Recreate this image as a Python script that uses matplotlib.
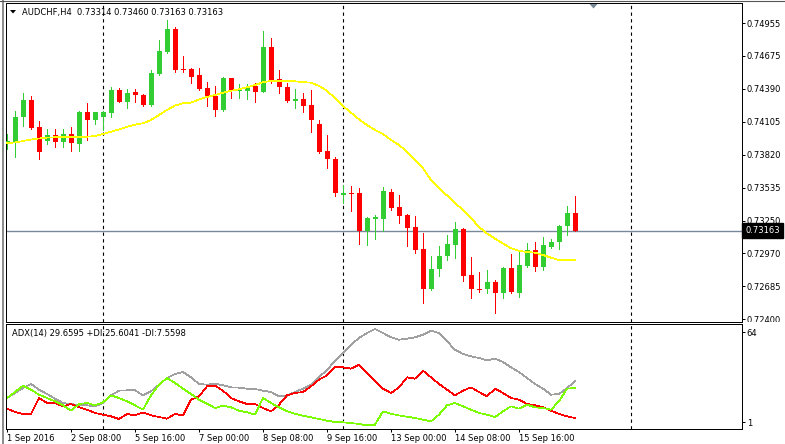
import matplotlib
matplotlib.use("Agg")
import matplotlib.pyplot as plt
from matplotlib.patches import Polygon, Rectangle
from matplotlib.lines import Line2D
import numpy as np

# AUDCHF H4 candles, 1 Sep 2016 00:00 .. 16 Sep 2016 20:00
opens = [0.73926, 0.73933, 0.74142, 0.74293, 0.74060, 0.73942, 0.73991, 0.73933, 0.73997, 0.73913,
         0.74189, 0.74123, 0.74146, 0.74183, 0.74379, 0.74278, 0.74365, 0.74336, 0.74250, 0.74520,
         0.74710, 0.74906, 0.74561, 0.74561, 0.74509, 0.74397, 0.74327, 0.74207, 0.74486, 0.74373,
         0.74371, 0.74414, 0.74365, 0.74753, 0.74474, 0.74402, 0.74287, 0.74302, 0.74250, 0.74086,
         0.73853, 0.73781, 0.73469, 0.73490, 0.73490, 0.73159, 0.73268, 0.73268, 0.73499, 0.73369,
         0.73300, 0.73197, 0.73007, 0.72661, 0.72831, 0.72946, 0.73044, 0.73177, 0.72782, 0.72664,
         0.72659, 0.72722, 0.72624, 0.72843, 0.72624, 0.72863, 0.72998, 0.72854, 0.73027, 0.73063,
         0.73208, 0.73314]
highs = [0.73999, 0.74201, 0.74351, 0.74327, 0.74112, 0.74040, 0.74040, 0.74040, 0.74062, 0.74198,
         0.74264, 0.74189, 0.74198, 0.74408, 0.74394, 0.74385, 0.74385, 0.74342, 0.74552, 0.74811,
         0.74984, 0.74920, 0.74673, 0.74572, 0.74572, 0.74451, 0.74414, 0.74495, 0.74486, 0.74427,
         0.74435, 0.74442, 0.74888, 0.74831, 0.74552, 0.74437, 0.74388, 0.74351, 0.74379, 0.74120,
         0.73991, 0.73804, 0.73559, 0.73551, 0.73533, 0.73285, 0.73300, 0.73545, 0.73527, 0.73473,
         0.73309, 0.73291, 0.73147, 0.72946, 0.73033, 0.73128, 0.73240, 0.73184, 0.72935, 0.72808,
         0.72826, 0.72739, 0.72849, 0.72964, 0.72990, 0.73061, 0.73067, 0.73113, 0.73093, 0.73214,
         0.73381, 0.73460]
lows = [0.73870, 0.73803, 0.74069, 0.74045, 0.73781, 0.73913, 0.73890, 0.73890, 0.73855, 0.73855,
        0.73948, 0.74086, 0.74034, 0.74149, 0.74273, 0.74221, 0.74273, 0.74241, 0.74241, 0.74509,
        0.74696, 0.74537, 0.74537, 0.74440, 0.74375, 0.74237, 0.74155, 0.74198, 0.74313, 0.74310,
        0.74301, 0.74278, 0.74358, 0.74437, 0.74351, 0.74278, 0.74226, 0.74187, 0.74014, 0.73833,
        0.73709, 0.73460, 0.73401, 0.73337, 0.73050, 0.73041, 0.73093, 0.73165, 0.73343, 0.73234,
        0.73035, 0.72970, 0.72543, 0.72653, 0.72774, 0.72912, 0.72932, 0.72733, 0.72581, 0.72638,
        0.72624, 0.72452, 0.72581, 0.72624, 0.72590, 0.72849, 0.72819, 0.72826, 0.73013, 0.73007,
        0.73128, 0.73163]
closes = [0.73939, 0.74146, 0.74293, 0.74051, 0.73847, 0.73991, 0.73933, 0.73997, 0.73919, 0.74189,
          0.74123, 0.74189, 0.74189, 0.74379, 0.74278, 0.74351, 0.74339, 0.74250, 0.74523, 0.74716,
          0.74906, 0.74552, 0.74552, 0.74494, 0.74385, 0.74321, 0.74207, 0.74486, 0.74373, 0.74384,
          0.74405, 0.74365, 0.74753, 0.74466, 0.74402, 0.74287, 0.74299, 0.74244, 0.74118, 0.73847,
          0.73781, 0.73486, 0.73486, 0.73481, 0.73165, 0.73274, 0.73283, 0.73507, 0.73363, 0.73294,
          0.73191, 0.73001, 0.72664, 0.72834, 0.72946, 0.73050, 0.73177, 0.72776, 0.72659, 0.72657,
          0.72722, 0.72624, 0.72843, 0.72633, 0.72866, 0.72998, 0.72854, 0.73041, 0.73070, 0.73208,
          0.73320, 0.73163]
# yellow moving average
ma = [0.73922, 0.73926, 0.73939, 0.73952, 0.73961, 0.73968, 0.73971, 0.73971, 0.73974, 0.73974,
      0.73976, 0.73982, 0.73999, 0.74019, 0.74038, 0.74062, 0.74080, 0.74092, 0.74120, 0.74163,
      0.74207, 0.74245, 0.74264, 0.74270, 0.74297, 0.74319, 0.74336, 0.74356, 0.74373, 0.74385,
      0.74403, 0.74422, 0.74446, 0.74457, 0.74457, 0.74457, 0.74454, 0.74448, 0.74442, 0.74414,
      0.74373, 0.74308, 0.74241, 0.74184, 0.74126, 0.74077, 0.74034, 0.73999, 0.73948, 0.73905,
      0.73847, 0.73775, 0.73703, 0.73602, 0.73529, 0.73469, 0.73404, 0.73343, 0.73274, 0.73197,
      0.73141, 0.73096, 0.73054, 0.73013, 0.72990, 0.72981, 0.72975, 0.72955, 0.72932, 0.72912,
      0.72912, 0.72912]
# ADX(14) panel
adx = [19.6, 22.6, 25.6, 28.0, 24.6, 22.0, 19.2, 16.6, 16.0, 15.2,
       15.2, 14.6, 16.6, 21.2, 24.0, 24.2, 24.2, 21.2, 23.6, 27.6,
       31.6, 34.0, 35.2, 32.0, 28.0, 27.6, 28.2, 27.2, 26.0, 25.8,
       25.2, 25.0, 24.0, 23.2, 20.6, 21.0, 23.2, 25.2, 27.6, 32.0,
       36.6, 41.6, 46.6, 51.6, 55.6, 58.6, 61.0, 58.6, 56.0, 54.6,
       55.2, 56.0, 57.6, 60.0, 58.6, 53.6, 48.6, 46.0, 44.6, 43.6,
       42.2, 43.2, 41.2, 38.0, 35.2, 31.6, 28.0, 25.2, 21.6, 22.0,
       25.6, 29.66]
plus_di = [19.6, 23.2, 27.0, 24.6, 21.6, 19.6, 17.6, 15.2, 12.0, 16.0,
           16.6, 15.2, 17.0, 21.2, 19.6, 17.6, 15.2, 12.6, 21.2, 27.6,
           31.6, 28.6, 25.2, 22.0, 18.6, 16.2, 13.6, 15.0, 14.0, 12.0,
           11.0, 9.6, 19.6, 16.6, 14.0, 11.6, 10.2, 9.0, 8.0, 7.0,
           6.0, 5.2, 5.0, 4.6, 4.0, 3.2, 3.6, 11.6, 10.2, 9.1,
           8.4, 7.6, 6.6, 5.6, 9.6, 15.2, 16.6, 14.6, 12.6, 10.6,
           9.6, 8.2, 11.6, 14.6, 13.2, 15.6, 14.0, 13.6, 12.6, 17.6,
           25.2, 25.60]
minus_di = [13.2, 11.2, 10.0, 10.0, 19.6, 16.6, 16.6, 14.6, 16.0, 14.0,
            12.6, 10.6, 9.6, 8.6, 7.0, 10.0, 9.2, 11.0, 9.2, 8.2,
            7.2, 10.0, 9.2, 18.6, 20.6, 26.6, 27.0, 24.0, 19.6, 17.6,
            16.0, 16.0, 13.6, 11.6, 15.6, 21.2, 22.6, 23.2, 26.6, 30.6,
            33.2, 38.0, 38.0, 37.2, 39.6, 34.6, 29.6, 25.2, 22.6, 26.0,
            32.0, 31.2, 36.0, 32.0, 28.0, 24.6, 21.2, 24.0, 26.0, 23.2,
            20.6, 25.2, 22.6, 19.6, 18.6, 16.0, 15.2, 14.0, 12.0, 10.0,
            8.6, 7.56]

price_ticks = [0.74955, 0.74675, 0.74390, 0.74105, 0.73820, 0.73535, 0.73250, 0.72970, 0.72685, 0.72400]
time_pos = [0, 8, 16, 24, 32, 40, 48, 56, 64]
time_labels = ["1 Sep 2016", "2 Sep 08:00", "5 Sep 16:00", "7 Sep 00:00", "8 Sep 08:00",
               "9 Sep 16:00", "13 Sep 00:00", "14 Sep 08:00", "15 Sep 16:00"]
separators = [12, 42, 78]

W, H = 785, 444
px = 0.72  # one pixel in points
lw_line = 0.5
fs = 6
plt.rcParams["font.family"] = "DejaVu Sans"

fig = plt.figure(figsize=(W / 100, H / 100), dpi=100)
ax = fig.add_axes([6 / W, 1 - 322 / H, 736 / W, 319 / H])
ax2 = fig.add_axes([6 / W, 1 - 429 / H, 736 / W, 105 / H], zorder=3)

o = np.array(opens); c = np.array(closes)
x = np.arange(len(o))
cols = np.where(c >= o, "#32CD32", "#FF0000")
ax.vlines(x, lows, highs, colors=cols, lw=px, antialiased=False, zorder=3)
body = np.maximum(np.abs(c - o), 0.000086)
ax.bar(x, body, bottom=np.minimum(o, c), width=0.625, color=cols, lw=0, antialiased=False, zorder=4)
ax.plot(x, ma, color="#FFFF00", lw=lw_line, antialiased=False, zorder=5)
ax.axhline(closes[-1], color="#778899", lw=1.0, zorder=2)
for s in separators:
    ax.axvline(s, color="black", lw=0.8, ls=(0, (3, 3)), zorder=1)
    ax2.axvline(s, color="black", lw=0.8, ls=(0, (3, 3)), zorder=1)

ax.set_xlim(-0.125, 91.875)
ax.set_ylim(0.723766, 0.751302)
ax.set_xticks([])
ax.yaxis.tick_right()
ax.set_yticks(price_ticks)
ax.set_yticklabels(["%.5f" % p for p in price_ticks])
ax.tick_params(axis="y", direction="out", length=2.5, width=px, pad=1, labelsize=fs)
for sp in ax.spines.values():
    sp.set_linewidth(px)

ax.annotate("%.5f" % closes[-1], xy=(1, closes[-1]), xycoords=("axes fraction", "data"),
            xytext=(2.2, 0), textcoords="offset points", color="white", fontsize=fs,
            va="center", ha="left", annotation_clip=False,
            bbox=dict(boxstyle="square,pad=0.35", fc="black", ec="black"))

# ADX panel
ax2.plot(x, adx, color="#A0A0A0", lw=lw_line, antialiased=False)
ax2.plot(x, minus_di, color="#FF0000", lw=lw_line, antialiased=False)
ax2.plot(x, plus_di, color="#7CFC00", lw=lw_line, antialiased=False)
ax2.set_xlim(-0.125, 91.875)
ax2.set_ylim(1, 64)
ax2.yaxis.tick_right()
ax2.set_yticks([59.2, 5.2])
ax2.set_yticklabels(["64", "1"])
ax2.set_xticks(time_pos)
ax2.set_xticklabels(time_labels, ha="left")
ax2.tick_params(direction="out", length=2.5, width=px, pad=1, labelsize=fs)
for sp in ax2.spines.values():
    sp.set_linewidth(px)
ax2.text(0.0077, 0.905, "ADX(14) 29.6595 +DI:25.6041 -DI:7.5598", transform=ax2.transAxes,
         fontsize=fs, va="center", ha="left")

# header text and little markers
fig.text(22 / W, 1 - 12 / H, "AUDCHF,H4  0.73314 0.73460 0.73163 0.73163", fontsize=fs,
         va="center", ha="left")
fig.add_artist(Polygon([[10 / W, 1 - 10 / H], [16 / W, 1 - 10 / H], [13 / W, 1 - 13.5 / H]],
                       closed=True, fc="black", ec="none", transform=fig.transFigure))
fig.add_artist(Polygon([[589.5 / W, 1 - 4 / H], [597.5 / W, 1 - 4 / H], [593.5 / W, 1 - 8.5 / H]],
                       closed=True, fc="#778899", ec="none", transform=fig.transFigure, zorder=6))
# hide price label spilling below the main chart
fig.add_artist(Rectangle((743 / W, 0), 42 / W, 122 / H, fc="white", ec="none",
                         transform=fig.transFigure, zorder=2))
# window frame
fig.add_artist(Line2D([2.5 / W, 2.5 / W], [0, 1], color="#8a8a8a", lw=1.4, transform=fig.transFigure))
fig.add_artist(Line2D([0, 1], [1 - 1 / H, 1 - 1 / H], color="#555555", lw=0.8, transform=fig.transFigure))

fig.savefig("out.png", dpi=100)
